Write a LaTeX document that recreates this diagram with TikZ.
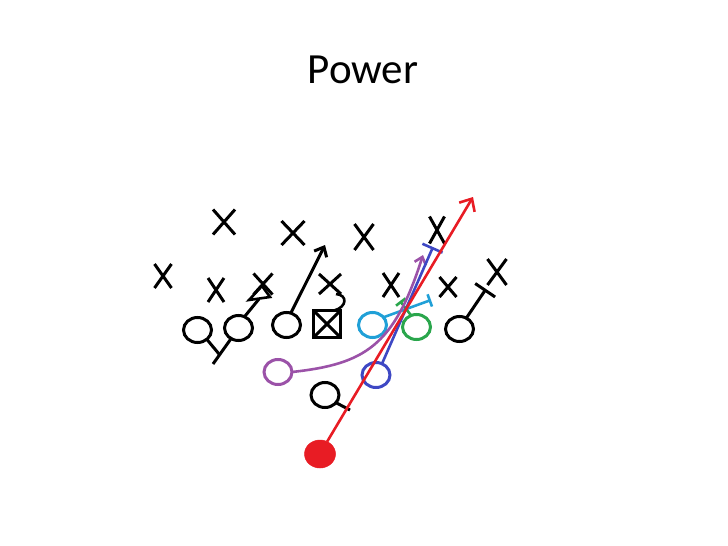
\documentclass[tikz,border=0pt]{standalone}
\usepackage{fontspec}
\setmainfont{Carlito}
\usetikzlibrary{positioning,shapes.misc,shapes.geometric,arrows.meta}
\definecolor{pred}{RGB}{232,28,36}
\definecolor{ppurple}{RGB}{155,82,168}
\definecolor{pblue}{RGB}{62,72,196}
\definecolor{pcyan}{RGB}{32,160,215}
\definecolor{pgreen}{RGB}{42,166,76}

\begin{document}
\begin{tikzpicture} [
	x=1pt,y=-1pt,
	line width=3pt,
	node distance=14pt,
	oman/.style={
		ellipse,draw,inner sep=0pt,outer sep=0pt,minimum width=28pt,minimum height=25pt
	},
	xman/.style={
		cross out,draw,inner sep=0pt,outer sep=0pt,minimum width=19pt,minimum height=24pt
	},
	cbox/.style={
		rectangle,draw,inner sep=0pt,outer sep=0pt,minimum size=27pt,
		path picture={\draw (path picture bounding box.south west) -- (path picture bounding box.north east)
			(path picture bounding box.north west) -- (path picture bounding box.south east);}
	},
	run/.style={line width=2.6pt}
]
\useasboundingbox (0,0) rectangle (728,546);
\node [anchor=base]	(title) at (363,83)	{\fontsize{43}{50}\selectfont Power};
% offensive line
\node [cbox]	(ctr) at (327,324)			{};
\node [oman]	(lg)[left=13pt of ctr,yshift=-1pt]	{};
\node [oman]	(lt)[left=20pt of lg,yshift=-3pt]	{};
\node [oman]	(le)[left=13pt of lt,yshift=-2pt]	{};
\node [oman,pcyan]	(rg)[right=18pt of ctr,yshift=-1pt]	{};
\node [oman,pgreen]	(rt)[right=16pt of rg,yshift=-2pt]	{};
\node [oman]	(re)[right=15pt of rt,yshift=-2pt]	{};
% backfield
\node [oman,ppurple]	(fb) at (278,372)	{};
\node [oman,pblue]	(hb) at (376,375)	{};
\node [oman]	(qb) at (325,395)		{};
\node [oman,pred,fill=pred,minimum width=31pt,minimum height=28pt,line width=0.5pt]	(rb) at (320,454)	{};
% defense
\node [xman,minimum width=22pt,minimum height=25pt]	(d1) at (224,222)	{};
\node [xman,minimum width=17pt]	(d2) at (163,276)		{};
\node [xman,minimum width=16pt]	(d3) at (216,290)		{};
\node [xman,minimum height=21pt]	(d4) at (263,284)	{};
\node [xman,minimum width=23pt]	(d5) at (293,233)		{};
\node [xman,minimum width=22pt,minimum height=20pt]	(d6) at (330,284)	{};
\node [xman,minimum height=26pt]	(d7) at (364,237)	{};
\node [xman,minimum width=15pt,minimum height=27pt]	(d8) at (437,230)	{};
\node [xman,minimum width=16pt]	(d9) at (391,285)		{};
\node [xman,minimum width=17pt,minimum height=20pt]	(d10) at (448,287)	{};
\node [xman,minimum width=19pt,minimum height=26pt]	(d11) at (497,272)	{};
% blocks
\coordinate (dbl) at (213,364);
\coordinate (dbj) at (219,354);
\draw (lt.-125) -- (dbl);
\draw (le.-45) -- (dbj);
\coordinate (ltend) at (259,299);
\draw (lt.62) -- (ltend);
\draw [line width=2.6pt] (ltend) ++(-10,1) -- ++(21,-3) -- ++(-8,-11) -- cycle;
\coordinate (lgend) at (325,245);
\draw [-{Straight Barb[length=8pt,width=14pt]}] (lg.70) -- (lgend);
\coordinate (hook) at (336,294);
\draw [line width=2.6pt] (ctr.62) .. controls (347,307) and (348,295) .. (hook);
\coordinate (rgend) at (431,300);
\draw [pcyan,run,-{Bar[width=13pt]}] (rg.35) -- (rgend);
\coordinate (rtend) at (400,301);
\draw [pgreen,run,-{Bar[width=12pt]}] (rt.115) -- (rtend);
\coordinate (reend) at (486,289);
\draw [-{Bar[width=24pt]}] (re.58) -- (reend);
% backs
\coordinate (qbend) at (350,410);
\draw (qb.-35) -- (qbend);
\coordinate (fbend) at (423,255);
\draw [ppurple,run,-{Straight Barb[length=7pt,width=12pt]}] (fb.east) .. controls (365,364) and (394,346) .. (fbend);
\coordinate (hbend) at (433,247);
\draw [pblue,run,-{Bar[width=22pt]}] (hb.62) -- (hbend);
\coordinate (rbend) at (473,197);
\draw [pred,run,-{Straight Barb[length=10pt,width=18pt]}] (rb.60) -- (rbend);
\end{tikzpicture}
\end{document}
